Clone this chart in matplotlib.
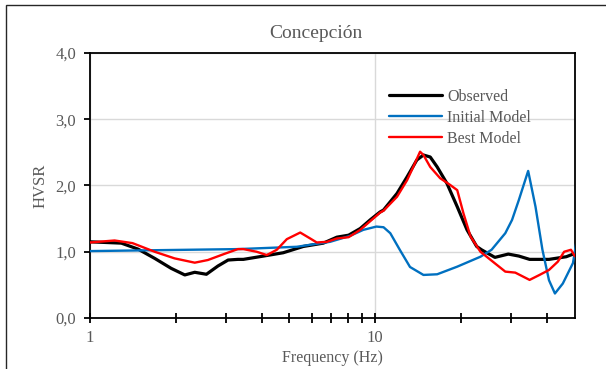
import matplotlib.pyplot as plt
from matplotlib.ticker import NullFormatter, FixedLocator
from matplotlib.patches import Rectangle

# HVSR curves, frequency in Hz
obs_f = [1.0, 1.288, 1.474, 1.686, 1.925, 2.15, 2.33, 2.56, 2.81, 3.05, 3.30, 3.45,
         4.06, 4.76, 5.6, 6.58, 7.34, 8.07, 8.86, 9.6, 10.4, 10.7, 11.93, 12.94, 14.0,
         14.77, 15.6, 16.5, 17.86, 19.4, 21.0, 22.7, 23.6, 26.3, 29.3, 31.9, 34.8, 40.7,
         46.8, 50.2]
obs_v = [1.15, 1.13, 1.04, 0.90, 0.75, 0.65, 0.69, 0.66, 0.785, 0.875, 0.885, 0.885,
         0.935, 0.985, 1.08, 1.13, 1.22, 1.25, 1.35, 1.48, 1.60, 1.63, 1.88, 2.13, 2.385,
         2.46, 2.43, 2.28, 2.03, 1.68, 1.33, 1.08, 1.03, 0.915, 0.965, 0.935, 0.885, 0.885,
         0.925, 0.975]

ini_f = [1.0, 3.30, 5.31, 6.95, 8.17, 9.08, 10.1, 10.7, 11.3, 12.2, 13.25, 14.77, 16.5,
         19.4, 23.4, 25.6, 28.6, 30.2, 31.9, 34.4, 36.5, 38.6, 40.7, 42.7, 45.5, 49.4, 51.0]
ini_v = [1.01, 1.04, 1.075, 1.15, 1.24, 1.33, 1.38, 1.37, 1.28, 1.03, 0.77, 0.65, 0.66,
         0.775, 0.925, 1.03, 1.28, 1.48, 1.78, 2.22, 1.68, 1.03, 0.57, 0.37, 0.52, 0.83, 1.2]

best_f = [1.0, 1.22, 1.41, 1.686, 1.98, 2.33, 2.59, 2.97, 3.30, 3.45, 3.84, 4.17, 4.52,
          4.90, 5.46, 5.92, 6.24, 6.78, 7.34, 8.07, 8.86, 9.6, 10.4, 10.7, 11.93, 12.94,
          13.6, 14.37, 14.77, 15.6, 16.9, 18.3, 19.4, 20.4, 21.6, 23.4, 26.3, 28.6, 31.0,
          34.8, 37.7, 40.7, 43.7, 46.0, 48.6, 50.2]
best_v = [1.14, 1.17, 1.13, 1.00, 0.90, 0.835, 0.875, 0.97, 1.04, 1.04, 1.00, 0.95, 1.03,
          1.19, 1.29, 1.20, 1.14, 1.15, 1.20, 1.22, 1.33, 1.46, 1.59, 1.62, 1.83, 2.08,
          2.28, 2.51, 2.46, 2.28, 2.11, 2.01, 1.93, 1.58, 1.23, 1.0, 0.825, 0.70, 0.685,
          0.575, 0.65, 0.725, 0.85, 1.0, 1.03, 0.93]

yticks = [0, 1, 2, 3, 4]
ylabels = ['0,0', '1,0', '2,0', '3,0', '4,0']
xticks = [1, 10]
xlabels = ['1', '10']

grey = '#595959'
plt.rcParams['font.family'] = ['Liberation Serif', 'DejaVu Serif']

fig = plt.figure(figsize=(6.06, 3.69), dpi=100)
ax = fig.add_axes([0.1485, 0.1382, 0.8003, 0.7182])

kw = dict(solid_joinstyle='round', solid_capstyle='round')
ax.plot(obs_f, obs_v, color='black', lw=2.3, label='Observed', zorder=3, **kw)
ax.plot(ini_f, ini_v, color='#0070C0', lw=1.7, label='Initial Model', zorder=4, **kw)
ax.plot(best_f, best_v, color='#FF0000', lw=1.7, label='Best Model', zorder=5, **kw)

ax.set_xscale('log')
ax.set_xlim(1, 50.2)
ax.set_ylim(0, 4)
ax.set_yticks(yticks)
ax.set_yticklabels(ylabels)
ax.xaxis.set_major_locator(FixedLocator(xticks))
ax.set_xticklabels(xlabels)
ax.xaxis.set_minor_locator(FixedLocator([2, 3, 4, 5, 6, 7, 8, 9, 20, 30, 40]))
ax.xaxis.set_minor_formatter(NullFormatter())

ax.grid(axis='y', color='#D9D9D9', lw=1.0)
ax.grid(axis='x', which='major', color='#D9D9D9', lw=1.0)
ax.set_axisbelow(True)

for s in ax.spines.values():
    s.set_color('black')
    s.set_linewidth(1.3)

ax.tick_params(axis='both', which='both', color='black', width=1.3,
               labelcolor=grey, labelsize=12)
ax.tick_params(axis='x', which='both', direction='inout', length=7, pad=5)
ax.tick_params(axis='y', direction='out', length=4, pad=6)

ax.set_xlabel('Frequency (Hz)', color=grey, fontsize=11.5, labelpad=3)
ax.set_ylabel('HVSR', color=grey, fontsize=12, labelpad=5)
fig.text(0.522, 0.91, 'Concepción', color=grey, fontsize=14, ha='center', va='center')

ax.legend(loc='upper left', bbox_to_anchor=(0.6, 0.895), frameon=False, fontsize=11.5,
          labelcolor=grey, handlelength=3.3, handletextpad=0.35, labelspacing=0.32,
          borderpad=0)

# chart border (right and bottom edges fall outside the canvas)
fig.patches.append(Rectangle((0.0099, -0.1), 1.2, 1.0864, transform=fig.transFigure,
                             fill=False, edgecolor='#262626', lw=1.0))

fig.savefig('out.png', dpi=100)
